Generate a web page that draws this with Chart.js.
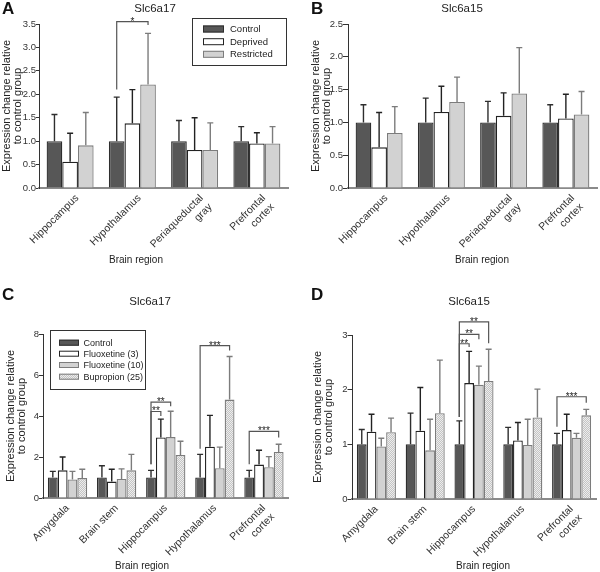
<!DOCTYPE html>
<html>
<head>
<meta charset="utf-8">
<script src="https://cdn.jsdelivr.net/npm/chart.js@4.4.1/dist/chart.umd.min.js"></script>
<style>
  body { margin: 0; background: #fff; }
  #wrap { position: relative; width: 600px; height: 572px; }
  canvas { position: absolute; }
</style>
</head>
<body>
<div id="wrap">
  <canvas id="cA" width="300" height="286" style="left:0;top:0"></canvas>
  <canvas id="cB" width="300" height="286" style="left:300px;top:0"></canvas>
  <canvas id="cC" width="300" height="286" style="left:0;top:286px"></canvas>
  <canvas id="cD" width="300" height="286" style="left:300px;top:286px"></canvas>
</div>
<script>
// ---------- data ----------
const regionsAB = ["Hippocampus", "Hypothalamus", ["Periaqueductal", "gray"], ["Prefrontal", "cortex"]];
const regionsCD = ["Amygdala", "Brain stem", "Hippocampus", "Hypothalamus", ["Prefrontal", "cortex"]];
const groupsAB = ["Control", "Deprived", "Restricted"];
const groupsCD = ["Control", "Fluoxetine (3)", "Fluoxetine (10)", "Bupropion (25)"];

// A: Slc6a17, food deprivation (mean, top of error bar)
const a17Control    = [1.00, 1.00, 1.00, 1.00];
const a17ControlTop = [1.57, 1.94, 1.44, 1.31];
const a17Deprived   = [0.56, 1.38, 0.81, 0.95];
const a17DeprivedTop= [1.17, 2.10, 1.50, 1.18];
const a17Restr      = [0.91, 2.21, 0.81, 0.95];
const a17RestrTop   = [1.61, 3.30, 1.39, 1.31];

// B: Slc6a15, food deprivation
const b15Control    = [1.00, 1.00, 1.00, 1.00];
const b15ControlTop = [1.27, 1.37, 1.32, 1.27];
const b15Deprived   = [0.62, 1.16, 1.10, 1.06];
const b15DeprivedTop= [1.15, 1.55, 1.45, 1.43];
const b15Restr      = [0.84, 1.31, 1.44, 1.12];
const b15RestrTop   = [1.24, 1.69, 2.14, 1.47];

// C: Slc6a17, antidepressants
const c17Control    = [1.00, 1.00, 1.00, 1.00, 1.00];
const c17ControlTop = [1.30, 1.57, 1.35, 2.13, 1.35];
const c17Flx3       = [1.35, 0.80, 2.95, 2.50, 1.63];
const c17Flx3Top    = [2.00, 1.40, 3.85, 4.03, 2.33];
const c17Flx10      = [0.90, 0.93, 2.97, 1.45, 1.50];
const c17Flx10Top   = [1.30, 1.42, 4.23, 2.48, 2.02];
const c17Bup        = [0.97, 1.35, 2.10, 4.80, 2.25];
const c17BupTop     = [1.40, 2.13, 2.77, 6.90, 2.62];

// D: Slc6a15, antidepressants
const d15Control    = [1.00, 1.00, 1.00, 1.00, 1.00];
const d15ControlTop = [1.27, 1.57, 1.43, 1.31, 1.20];
const d15Flx3       = [1.23, 1.25, 2.12, 1.07, 1.26];
const d15Flx3Top    = [1.55, 2.04, 2.70, 1.40, 1.55];
const d15Flx10      = [0.96, 0.89, 2.09, 0.99, 1.12];
const d15Flx10Top   = [1.11, 1.46, 2.43, 1.46, 1.20];
const d15Bup        = [1.22, 1.57, 2.16, 1.49, 1.53];
const d15BupTop     = [1.48, 2.54, 2.74, 2.01, 1.64];

// significance brackets: [category, from series, to series, start, top, end, label]
const bracketsA = [[1, 0, 2, 2.10, 3.55, 3.48, "*"]];
const bracketsC = [
  [2, 0, 1, 1.65, 4.22, 4.00, "**"],
  [2, 0, 2, 1.65, 4.68, 4.48, "**"],
  [3, 0, 3, 2.40, 7.43, 7.20, "***"],
  [4, 0, 3, 1.65, 3.25, 2.95, "***"]
];
const bracketsD = [
  [2, 0, 1, 1.50, 2.84, 2.78, "**"],
  [2, 0, 2, 1.50, 3.01, 2.92, "**"],
  [2, 0, 3, 1.50, 3.24, 2.85, "**"],
  [4, 0, 3, 1.32, 1.87, 1.76, "***"]
];

// ---------- styles ----------
const FONT = '"Liberation Sans", Arial, Helvetica, sans-serif';
Chart.defaults.font.family = FONT;
Chart.defaults.color = "#333";

function dotPattern() {
  const c = document.createElement("canvas");
  c.width = 2; c.height = 2;
  const g = c.getContext("2d");
  g.fillStyle = "#c4c4c4"; g.fillRect(0, 0, 2, 2);
  g.fillStyle = "#ededed"; g.fillRect(0, 0, 1, 1); g.fillRect(1, 1, 1, 1);
  return g.createPattern(c, "repeat");
}

const fills   = ["#575757", "#ffffff", "#d2d2d2", dotPattern()];
const borders = ["#2e2e2e", "#222222", "#7c7c7c", "#7c7c7c"];

function makeSets(names, means, tops) {
  return names.map((n, i) => ({
    label: n,
    data: means[i],
    errorTop: tops[i],
    backgroundColor: fills[i],
    borderColor: borders[i],
    borderWidth: 1.3,
    barPercentage: 1.0
  }));
}

// ---------- plugins ----------
const errorBars = {
  id: "errorBars",
  afterDatasetsDraw(chart) {
    const ctx = chart.ctx;
    const y = chart.scales.y;
    chart.data.datasets.forEach((ds, i) => {
      const meta = chart.getDatasetMeta(i);
      ctx.save();
      ctx.strokeStyle = ds.borderColor;
      ctx.lineWidth = 1.4;
      meta.data.forEach((bar, j) => {
        const top = y.getPixelForValue(ds.errorTop[j]);
        ctx.beginPath();
        ctx.moveTo(bar.x, bar.y);
        ctx.lineTo(bar.x, top);
        ctx.moveTo(bar.x - 3, top);
        ctx.lineTo(bar.x + 3, top);
        ctx.stroke();
      });
      ctx.restore();
    });
  }
};

const brackets = {
  id: "brackets",
  afterDraw(chart, args, opts) {
    const ctx = chart.ctx;
    const y = chart.scales.y;
    ctx.save();
    ctx.strokeStyle = "#555";
    ctx.lineWidth = 1.2;
    ctx.fillStyle = "#222";
    ctx.font = "10px " + FONT;
    ctx.textAlign = "center";
    ctx.textBaseline = "alphabetic";
    (opts.items || []).forEach(b => {
      const x1 = chart.getDatasetMeta(b[1]).data[b[0]].x;
      const x2 = chart.getDatasetMeta(b[2]).data[b[0]].x;
      const yTop = y.getPixelForValue(b[4]);
      ctx.beginPath();
      ctx.moveTo(x1, y.getPixelForValue(b[3]));
      ctx.lineTo(x1, yTop);
      ctx.lineTo(x2, yTop);
      ctx.lineTo(x2, y.getPixelForValue(b[5]));
      ctx.stroke();
      ctx.fillText(b[6], (x1 + x2) / 2, yTop + 3);
    });
    ctx.restore();
  }
};

const boxLegend = {
  id: "boxLegend",
  afterDraw(chart, args, o) {
    if (!o.show) return;
    const ctx = chart.ctx;
    ctx.save();
    ctx.strokeStyle = "#333";
    ctx.lineWidth = 1;
    ctx.strokeRect(o.x + 0.5, o.y + 0.5, o.w, o.h);
    ctx.font = o.fontSize + "px " + FONT;
    ctx.textBaseline = "middle";
    ctx.textAlign = "left";
    chart.data.datasets.forEach((ds, i) => {
      const ry = o.rows[i];
      ctx.fillStyle = ds.backgroundColor;
      ctx.fillRect(o.swX, ry - o.swH / 2, o.swW, o.swH);
      ctx.strokeStyle = ds.borderColor;
      ctx.strokeRect(o.swX + 0.5, ry - o.swH / 2 + 0.5, o.swW - 1, o.swH - 1);
      ctx.fillStyle = "#222";
      ctx.fillText(ds.label, o.textX, ry + 0.5);
    });
    ctx.restore();
  }
};

const panelText = {
  id: "panelText",
  afterDraw(chart, args, o) {
    const ctx = chart.ctx;
    ctx.save();
    ctx.fillStyle = "#111";
    ctx.textBaseline = "middle";
    ctx.textAlign = "left";
    ctx.font = "bold 17px " + FONT;
    ctx.fillText(o.letter, o.letterX, o.letterY);
    ctx.textAlign = "center";
    ctx.fillStyle = "#222";
    ctx.font = "11.5px " + FONT;
    ctx.fillText(o.title, o.titleX, o.titleY);
    ctx.font = "10px " + FONT;
    ctx.fillText("Brain region", o.xTitleX, o.xTitleY);
    ctx.restore();
  }
};

// ---------- chart builder ----------
function buildChart(id, cfg) {
  new Chart(document.getElementById(id), {
    type: "bar",
    data: { labels: cfg.labels, datasets: cfg.datasets },
    options: {
      responsive: false,
      animation: false,
      events: [],
      datasets: { bar: { categoryPercentage: cfg.catPct } },
      layout: { padding: { left: 0, top: cfg.top, right: cfg.right, bottom: 0 } },
      plugins: {
        legend: { display: false },
        tooltip: { enabled: false },
        panelText: cfg.text,
        boxLegend: cfg.legend || { show: false },
        brackets: { items: cfg.brackets || [] }
      },
      scales: {
        x: {
          offset: true,
          grid: { display: false, drawTicks: false },
          border: { display: true, color: "#8a8a8a", width: 2 },
          ticks: { autoSkip: false, minRotation: 45, maxRotation: 45, padding: 4, labelOffset: cfg.labelShift,
                   color: "#333", font: { size: 10.5 } },
          afterFit: s => { s.height = cfg.xHeight; }
        },
        y: {
          min: 0,
          max: cfg.yMax,
          ticks: { stepSize: cfg.yStep, padding: 0, color: "#333", font: { size: 9.5 },
                   callback: v => v.toFixed(cfg.yDec) },
          grid: { drawOnChartArea: false, drawTicks: true, tickLength: cfg.tickLen, color: "#333" },
          border: { display: true, color: "#333", width: 1 },
          title: { display: true, text: ["Expression change relative", "to control group"],
                   color: "#222", font: { size: 11, lineHeight: 1.0 },
                   padding: { top: cfg.yTitlePad, bottom: 0 } },
          afterFit: s => { s.width = cfg.yWidth; }
        }
      }
    },
    plugins: [errorBars, brackets, boxLegend, panelText]
  });
}

buildChart("cA", {
  labels: regionsAB,
  datasets: makeSets(groupsAB, [a17Control, a17Deprived, a17Restr], [a17ControlTop, a17DeprivedTop, a17RestrTop]),
  catPct: 0.755, top: 24, right: 12, xHeight: 98, yWidth: 39, yTitlePad: 1.5, tickLen: 3, labelShift: 7,
  yMax: 3.5, yStep: 0.5, yDec: 1,
  brackets: bracketsA,
  legend: { show: true, x: 192, y: 18, w: 94, h: 47, rows: [29, 41.7, 54.3], swX: 203, swW: 21, swH: 7, textX: 230, fontSize: 9.5 },
  text: { letter: "A", letterX: 2, letterY: 9, title: "Slc6a17", titleX: 155, titleY: 9, xTitleX: 136, xTitleY: 260 }
});

buildChart("cB", {
  labels: regionsAB,
  datasets: makeSets(groupsAB, [b15Control, b15Deprived, b15Restr], [b15ControlTop, b15DeprivedTop, b15RestrTop]),
  catPct: 0.755, top: 24, right: 3, xHeight: 98, yWidth: 48, yTitlePad: 10.5, tickLen: 5, labelShift: 7,
  yMax: 2.5, yStep: 0.5, yDec: 1,
  text: { letter: "B", letterX: 11, letterY: 9, title: "Slc6a15", titleX: 162, titleY: 9, xTitleX: 182, xTitleY: 260 }
});

buildChart("cC", {
  labels: regionsCD,
  datasets: makeSets(groupsCD, [c17Control, c17Flx3, c17Flx10, c17Bup], [c17ControlTop, c17Flx3Top, c17Flx10Top, c17BupTop]),
  catPct: 0.8, top: 48, right: 11.5, xHeight: 74, yWidth: 43, yTitlePad: 5.5, tickLen: 4, labelShift: 0,
  yMax: 8, yStep: 2, yDec: 0,
  brackets: bracketsC,
  legend: { show: true, x: 50, y: 44, w: 95, h: 59, rows: [56.7, 67.7, 79, 90.7], swX: 59, swW: 20, swH: 6, textX: 83.5, fontSize: 9 },
  text: { letter: "C", letterX: 2, letterY: 9, title: "Slc6a17", titleX: 150, titleY: 16, xTitleX: 142, xTitleY: 280 }
});

buildChart("cD", {
  labels: regionsCD,
  datasets: makeSets(groupsCD, [d15Control, d15Flx3, d15Flx10, d15Bup], [d15ControlTop, d15Flx3Top, d15Flx10Top, d15BupTop]),
  catPct: 0.8, top: 49, right: 4, xHeight: 73, yWidth: 52, yTitlePad: 12, tickLen: 4.5, labelShift: 0,
  yMax: 3, yStep: 1, yDec: 0,
  brackets: bracketsD,
  text: { letter: "D", letterX: 11, letterY: 9, title: "Slc6a15", titleX: 169, titleY: 16, xTitleX: 183, xTitleY: 280 }
});
</script>
</body>
</html>
